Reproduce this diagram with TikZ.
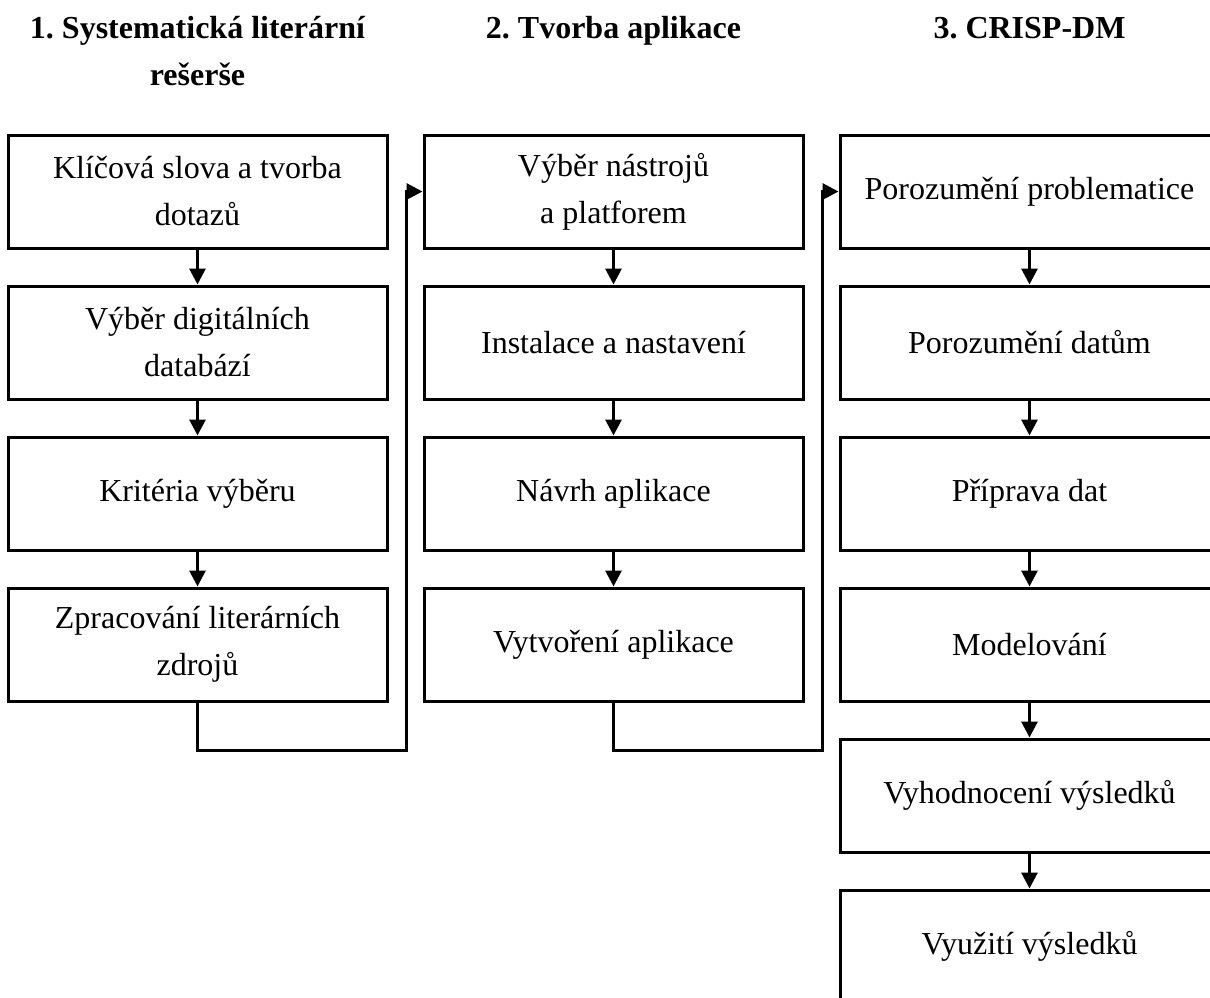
\documentclass[tikz,border=0pt]{standalone}
\usepackage{fontspec}
\setmainfont{Liberation Serif}
\usetikzlibrary{arrows.meta}
\frenchspacing
\begin{document}
\begin{tikzpicture}[x=1pt,y=-1pt,
  stepbox/.style={draw=black, line width=3pt, minimum width=379pt, minimum height=113pt,
    inner sep=0pt, align=center, font=\fontsize{32}{47}\selectfont},
  phase/.style={font=\fontsize{32}{47}\selectfont\bfseries, anchor=base, inner sep=0pt},
  flow/.style={line width=3pt, -{Triangle[length=16pt,width=16pt]}}
]
\useasboundingbox (0,0) rectangle (1210,997);
\clip (0,0) rectangle (1210,997);

% phase headings
\node[phase] (t1)  at (197.5,38) {1. Systematická literární};
\node[phase] (t1b) at (197.5,85) {rešerše};
\node[phase] (t2)  at (613.5,38) {2. Tvorba aplikace};
\node[phase] (t3)  at (1029.5,38) {3. CRISP-DM};

% phase 1: literature review
\node[stepbox] (a1) at (197.5,191.5) {Klíčová slova a tvorba\\dotazů};
\node[stepbox] (a2) at (197.5,342.5) {Výběr digitálních\\databází};
\node[stepbox] (a3) at (197.5,493.5) {Kritéria výběru};
\node[stepbox] (a4) at (197.5,644.5) {Zpracování literárních\\zdrojů};

% phase 2: application
\node[stepbox] (b1) at (613.5,191.5) {Výběr nástrojů\\a platforem};
\node[stepbox] (b2) at (613.5,342.5) {Instalace a nastavení};
\node[stepbox] (b3) at (613.5,493.5) {Návrh aplikace};
\node[stepbox] (b4) at (613.5,644.5) {Vytvoření aplikace};

% phase 3: CRISP-DM
\node[stepbox] (c1) at (1029.5,191.5) {Porozumění problematice};
\node[stepbox] (c2) at (1029.5,342.5) {Porozumění datům};
\node[stepbox] (c3) at (1029.5,493.5) {Příprava dat};
\node[stepbox] (c4) at (1029.5,644.5) {Modelování};
\node[stepbox] (c5) at (1029.5,795.5) {Vyhodnocení výsledků};
\node[stepbox] (c6) at (1029.5,946.5) {Využití výsledků};

% arrows inside each phase
\foreach \u/\v in {a1/a2,a2/a3,a3/a4,b1/b2,b2/b3,b3/b4,c1/c2,c2/c3,c3/c4,c4/c5,c5/c6}
  \draw[flow] (\u.south) -- (\v.north);

% links between phases
\coordinate (j1) at (406,750);
\coordinate (j2) at (822,750);
\draw[flow] (a4.south) |- (j1) |- (b1.west);
\draw[flow] (b4.south) |- (j2) |- (c1.west);
\end{tikzpicture}
\end{document}
